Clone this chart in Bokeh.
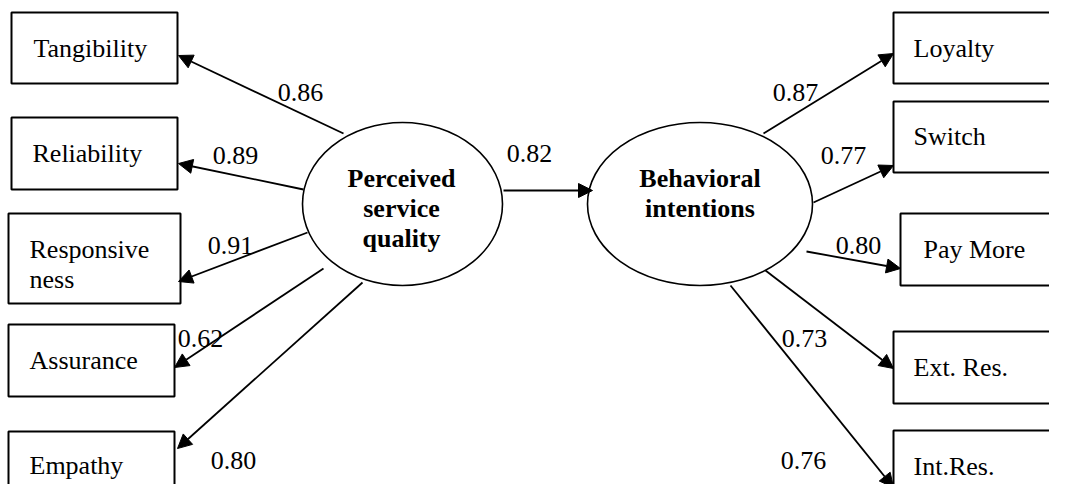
from bokeh.plotting import figure
from bokeh.models import ColumnDataSource, Range1d, Arrow, NormalHead
from bokeh.core.properties import value
from bokeh.embed import file_html
from bokeh.resources import INLINE

# ---- data ----
constructs = ["Perceived service quality", "Behavioral intentions"]
construct_lines = [["Perceived", "service", "quality"], ["Behavioral", "intentions"]]
psq_indicators = ["Tangibility", "Reliability", "Responsiveness", "Assurance", "Empathy"]
psq_loadings = [0.86, 0.89, 0.91, 0.62, 0.80]
bi_indicators = ["Loyalty", "Switch", "Pay More", "Ext. Res.", "Int.Res."]
bi_loadings = [0.87, 0.77, 0.80, 0.73, 0.76]
path_coef = 0.82

# ---- layout (pixel coordinates of the picture) ----
psq_box_l = [11, 11, 8, 8, 8]
psq_box_r = [177, 177, 180, 174, 174]
psq_box_t = [12, 117, 213, 324, 431]
psq_box_b = [83, 189, 303, 396, 510]
bi_box_l = [893, 893, 900, 893, 893]
bi_box_r = [1080, 1080, 1080, 1080, 1080]
bi_box_t = [12, 101, 213, 331, 430]
bi_box_b = [83, 172, 285, 403, 510]

ell_x = [402, 699.5]
ell_y = [203.5, 203.5]
ell_w = [200, 225]
ell_h = [163, 163]

psq_arrow_x0 = [343, 303, 307, 323, 362]
psq_arrow_y0 = [133, 189, 232, 268, 282]
psq_arrow_x1 = [178, 178, 178, 174, 177]
psq_arrow_y1 = [55, 163, 281, 367, 448]
bi_arrow_x0 = [763, 813, 806, 765, 730]
bi_arrow_y0 = [133, 202, 251, 270, 285]
bi_arrow_x1 = [893, 893, 900, 893, 893]
bi_arrow_y1 = [53, 165, 268, 368, 487]
path_arrow = (503, 190, 592, 190)

psq_lab_x = [300, 235, 230, 200, 233]
psq_lab_y = [92, 155, 245, 338, 460]
bi_lab_x = [795, 843, 858, 804, 803]
bi_lab_y = [92, 155, 245, 338, 460]
path_lab = (529, 153)

psq_text_x = [33, 32, 29, 29, 29]
psq_text_y = [48, 153, 249, 360, 465]
bi_text_x = [913, 913, 923, 913, 913]
bi_text_y = [48, 136, 249, 367, 466]

FONT = value("Times New Roman")
FS = value("26px")

p = figure(width=1049, height=484, output_backend="svg", toolbar_location=None,
           x_range=Range1d(0, 1049), y_range=Range1d(484, 0), min_border=0)
p.axis.visible = False
p.grid.visible = False
p.outline_line_color = None
p.background_fill_color = "white"

# indicator boxes
p.quad(left=psq_box_l + bi_box_l, right=psq_box_r + bi_box_r,
       top=psq_box_t + bi_box_t, bottom=psq_box_b + bi_box_b,
       fill_color="white", line_color="black", line_width=2)

# arrows
xs0 = psq_arrow_x0 + bi_arrow_x0 + [path_arrow[0]]
ys0 = psq_arrow_y0 + bi_arrow_y0 + [path_arrow[1]]
xs1 = psq_arrow_x1 + bi_arrow_x1 + [path_arrow[2]]
ys1 = psq_arrow_y1 + bi_arrow_y1 + [path_arrow[3]]
asrc = ColumnDataSource(dict(x0=xs0, y0=ys0, x1=xs1, y1=ys1))
p.add_layout(Arrow(source=asrc, x_start="x0", y_start="y0", x_end="x1", y_end="y1",
                   line_color="black", line_width=1.8,
                   end=NormalHead(size=14, fill_color="black", line_color="black", line_width=1)))

# latent constructs
p.ellipse(x=ell_x, y=ell_y, width=ell_w, height=ell_h,
          fill_color="white", line_color="black", line_width=1.6)

# construct names (bold)
cx, cy, ct = [], [], []
for i, lines in enumerate(construct_lines):
    for j, ln in enumerate(lines):
        cx.append(ell_x[i] - 1 if i == 0 else ell_x[i])
        cy.append(178 + 30 * j)
        ct.append(ln)
p.text(x=cx, y=cy, text=ct, text_font=FONT, text_font_size=FS, text_font_style="bold",
       text_align="center", text_baseline="alphabetic", text_color="black")

# indicator names
tx, ty, tt = [], [], []
for i, name in enumerate(psq_indicators):
    if name == "Responsiveness":
        tx += [psq_text_x[i], psq_text_x[i]]
        ty += [psq_text_y[i], psq_text_y[i] + 30]
        tt += ["Responsive", "ness"]
    else:
        tx.append(psq_text_x[i]); ty.append(psq_text_y[i]); tt.append(name)
for i, name in enumerate(bi_indicators):
    tx.append(bi_text_x[i]); ty.append(bi_text_y[i]); tt.append(name)
p.text(x=tx, y=ty, text=tt, text_font=FONT, text_font_size=FS,
       text_align="left", text_baseline="alphabetic", text_color="black")

# loadings
lx = psq_lab_x + bi_lab_x + [path_lab[0]]
ly = psq_lab_y + bi_lab_y + [path_lab[1]]
lt = [f"{v:.2f}" for v in psq_loadings + bi_loadings + [path_coef]]
p.text(x=lx, y=ly, text=lt, text_font=FONT, text_font_size=FS,
       text_align="center", text_baseline="alphabetic", text_color="black")

open("out.html", "w").write(file_html(p, INLINE))
